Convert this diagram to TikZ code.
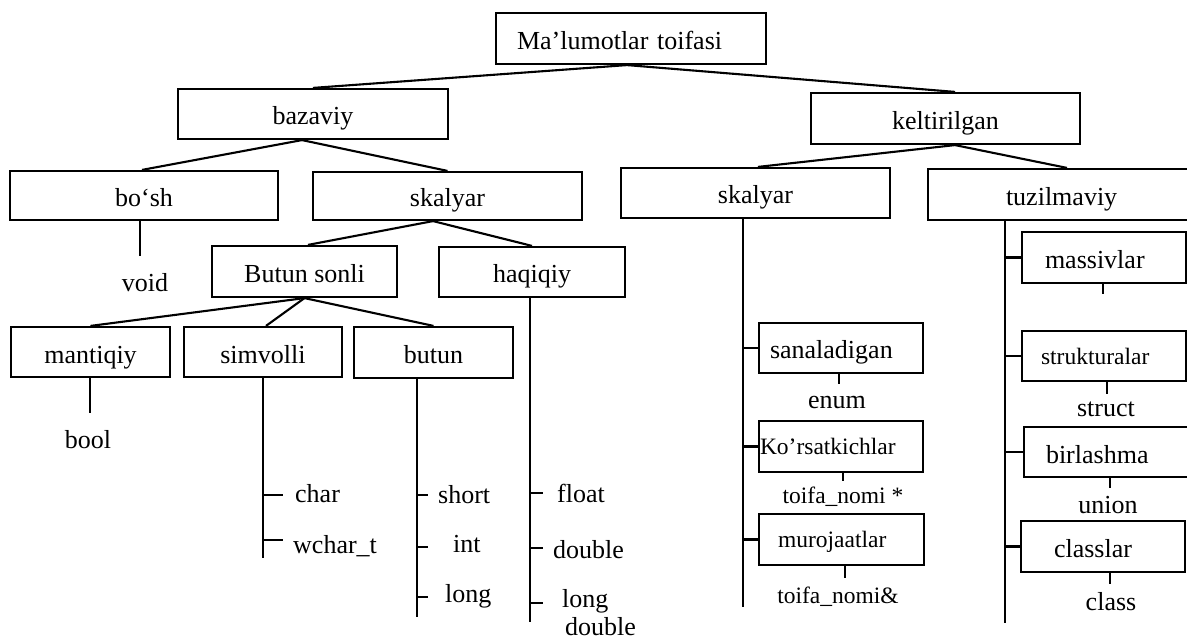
\documentclass[tikz,border=0pt]{standalone}
\usepackage{fontspec}
\setmainfont{Liberation Serif}
\newcommand\lblfont{\fontsize{26}{30}\selectfont}
\newcommand\lblsmall{\fontsize{23.5}{27}\selectfont}
\begin{document}
\begin{tikzpicture}[x=1pt,y=-1pt,
  box/.style={draw, line width=2.2pt, inner sep=0pt, text height=22pt, text depth=0pt, font=\lblfont},
  sbox/.style={box, text height=16pt, font=\lblsmall},
  lbox/.style 2 args={text width=#1, inner xsep=#2, align=left},
  link/.style={line width=2.1pt},
  tick/.style={line width=1.9pt},
  leaf/.style={inner sep=0pt, font=\lblfont},
  sleaf/.style={inner sep=0pt, font=\lblsmall}]
\useasboundingbox (0,0) rectangle (1187,639);
\clip (0,0) rectangle (1187,639);

% top levels
\node[box, lbox={228pt}{21pt}, minimum height=51pt] (root) at (631,38.5) {Ma’lumotlar toifasi};
\node[box, minimum width=270pt, minimum height=50pt] (bazaviy) at (313,114) {bazaviy};
\node[box, minimum width=269pt, minimum height=51pt] (kelt) at (945.5,118.5) {keltirilgan};

% second level
\node[box, minimum width=268pt, minimum height=49pt] (bosh) at (144,195.5) {bo‘sh};
\node[box, minimum width=269pt, minimum height=48pt] (skalA) at (447.5,196) {skalyar};
\node[box, minimum width=269pt, minimum height=50pt] (skalB) at (755.5,193) {skalyar};
\node[box, lbox={112pt}{78pt}, minimum height=51pt] (tuzil) at (1062,194.5) {tuzilmaviy};

% integer / real
\node[box, minimum width=185pt, minimum height=51pt] (butunsonli) at (304.5,271.5) {Butun sonli};
\node[box, minimum width=186pt, minimum height=50pt] (haqiqiy) at (532,272) {haqiqiy};
\node[box, minimum width=159pt, minimum height=50pt] (mantiqiy) at (90.5,352) {mantiqiy};
\node[box, minimum width=158pt, minimum height=50pt] (simvolli) at (263,352) {simvolli};
\node[box, minimum width=159pt, minimum height=51pt] (butun) at (433.5,352.5) {butun};

% derived scalar kinds
\node[box, lbox={142pt}{11pt}, minimum height=50pt] (sanal) at (841,348) {sanaladigan};
\node[sbox, lbox={162pt}{1pt}, minimum height=51pt] (korsat) at (841,446.5) {Ko’rsatkichlar};
\node[sbox, lbox={127pt}{19pt}, minimum height=51pt] (muroj) at (841.5,539.5) {murojaatlar};

% structured kinds
\node[box, lbox={118pt}{23pt}, minimum height=51pt] (massiv) at (1104,257.5) {massivlar};
\node[sbox, lbox={126pt}{19pt}, minimum height=50pt] (strukt) at (1104,356) {strukturalar};
\node[box, lbox={128pt}{22pt}, minimum height=50pt] (birl) at (1110,452) {birlashma};
\node[box, lbox={98pt}{33pt}, minimum height=51pt] (classlar) at (1103,546.5) {classlar};

% tree links
\draw[link] ([xshift=-4pt]root.south) -- (bazaviy.north);
\draw[link] ([xshift=-4pt]root.south) -- ([xshift=9.5pt]kelt.north);
\draw[link] ([xshift=-11pt]bazaviy.south) -- ([xshift=-2pt]bosh.north);
\draw[link] ([xshift=-11pt]bazaviy.south) -- (skalA.north);
\draw[link] ([xshift=-14.5pt]skalA.south) -- ([xshift=3.5pt]butunsonli.north);
\draw[link] ([xshift=-14.5pt]skalA.south) -- (haqiqiy.north);
\draw[link] (butunsonli.south) -- (mantiqiy.north);
\draw[link] (butunsonli.south) -- ([xshift=3pt]simvolli.north);
\draw[link] (butunsonli.south) -- (butun.north);
\draw[link] ([xshift=9.5pt]kelt.south) -- ([xshift=2.5pt]skalB.north);
\draw[link] ([xshift=9.5pt]kelt.south) -- ([xshift=5pt]tuzil.north);

% spines
\coordinate (boshE) at (140,256);
\coordinate (mantE) at (90,413);
\coordinate (simvE) at (263,558);
\coordinate (butE) at (417,617);
\coordinate (haqE) at (530,622);
\coordinate (skalE) at (743,607);
\coordinate (tuzE) at (1005,623);
\draw[link] (boshE |- bosh.south) -- (boshE);
\draw[link] (mantE |- mantiqiy.south) -- (mantE);
\draw[link] (simvE |- simvolli.south) -- (simvE);
\draw[link] (butE |- butun.south) -- (butE);
\draw[link] (haqE |- haqiqiy.south) -- (haqE);
\draw[link] (skalE |- skalB.south) -- (skalE);
\draw[link] (tuzE |- tuzil.south) -- (tuzE);

% branches off the spines
\draw[tick] (simvE |- 0,495) -- ++(20,0);
\draw[tick] (simvE |- 0,540) -- ++(20,0);
\draw[tick] (butE |- 0,495) -- ++(11,0);
\draw[tick] (butE |- 0,547) -- ++(11,0);
\draw[tick] (butE |- 0,597) -- ++(11,0);
\draw[tick] (haqE |- 0,493) -- ++(13,0);
\draw[tick] (haqE |- 0,548) -- ++(13,0);
\draw[tick] (haqE |- 0,603) -- ++(13,0);
\draw[link] (skalE |- sanal.west) -- (sanal.west);
\draw[link] (skalE |- korsat.west) -- (korsat.west);
\draw[link] (skalE |- muroj.west) -- (muroj.west);
\draw[link] (tuzE |- massiv.west) -- (massiv.west);
\draw[link] (tuzE |- strukt.west) -- (strukt.west);
\draw[link] (tuzE |- birl.west) -- (birl.west);
\draw[link] (tuzE |- classlar.west) -- (classlar.west);

% stubs under boxes
\draw[tick] ([xshift=-2pt]sanal.south) -- ++(0,10);
\draw[tick] ([xshift=2pt]korsat.south) -- ++(0,8);
\draw[tick] ([xshift=3.5pt]muroj.south) -- ++(0,12);
\draw[tick] ([xshift=-1pt]massiv.south) -- ++(0,10);
\draw[tick] ([xshift=3pt]strukt.south) -- ++(0,12);
\draw[tick] (birl.south) -- ++(0,10);
\draw[tick] ([xshift=7pt]classlar.south) -- ++(0,11);

% type keywords
\node[leaf, anchor=base] (void) at (145,292) {void};
\node[leaf, anchor=base] (bool) at (88,448) {bool};
\node[leaf, anchor=base west] (char) at (295,502) {char};
\node[leaf, anchor=base west] (wchar) at (293,553) {wchar\_t};
\node[leaf, anchor=base west] (short) at (438,503) {short};
\node[leaf, anchor=base west] (int) at (453,552) {int};
\node[leaf, anchor=base west] (long) at (445,602) {long};
\node[leaf, anchor=base west] (float) at (557,502) {float};
\node[leaf, anchor=base west] (double) at (553,558) {double};
\node[leaf, anchor=base west] (ldA) at (562,607) {long};
\node[leaf, anchor=base west] (ldB) at (565,635) {double};
\node[leaf, anchor=base] (enum) at (837,408) {enum};
\node[sleaf, anchor=base] (ptr) at (843,503) {toifa\_nomi *};
\node[sleaf, anchor=base] (ref) at (838,603) {toifa\_nomi\&};
\node[leaf, anchor=base] (struct) at (1106,416) {struct};
\node[leaf, anchor=base] (union) at (1108,513) {union};
\node[leaf, anchor=base] (class) at (1111,610) {class};
\end{tikzpicture}
\end{document}
